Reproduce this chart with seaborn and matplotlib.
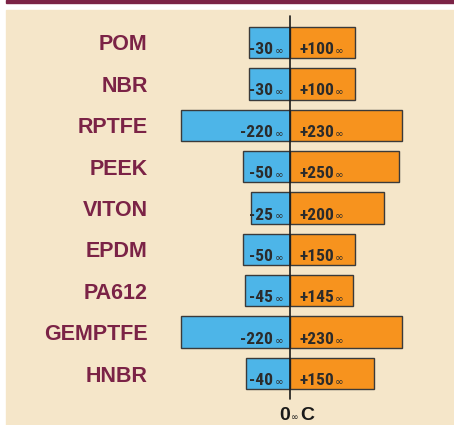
import matplotlib
matplotlib.use("Agg")
import matplotlib.pyplot as plt
from matplotlib.patches import Rectangle
from matplotlib import font_manager
import seaborn as sns
import pandas as pd

# materials, top to bottom
materials = ["POM", "NBR", "RPTFE", "PEEK", "VITON", "EPDM", "PA612", "GEMPTFE", "HNBR"]
# temperature limits printed on the bars
cold_temp = [-30, -30, -220, -50, -25, -50, -45, -220, -40]
hot_temp = [100, 100, 230, 250, 200, 150, 145, 230, 150]
# bar extents as drawn in the picture (the graphic is not to scale)
cold_bar = [-82, -82, -218, -94, -78, -94, -90, -218, -88]
hot_bar = [130, 130, 224, 218, 188, 130, 126, 224, 168]

MAROON = "#7b2346"
BEIGE = "#f5e6c9"
BLUE = "#4db5e8"
ORANGE = "#f7931e"
DARK = "#2b2b2b"


def pick_font(candidates):
    have = {f.name for f in font_manager.fontManager.ttflist if f.weight in (700, "bold")}
    for c in candidates:
        if c in have:
            return c
    return None


def main():
    df = pd.DataFrame({"material": materials, "cold": cold_bar, "hot": hot_bar})

    sns.set_style("white")
    plt.rcParams["font.family"] = ["Liberation Sans", "DejaVu Sans"]

    # condensed bold face for the numbers on the bars
    cond = pick_font(["Roboto Condensed", "Archivo Narrow", "PT Sans Narrow",
                      "Liberation Sans Narrow", "Oswald"])
    num_size = 12.5 if cond else 8.5
    num_family = [cond, "DejaVu Sans"] if cond else ["DejaVu Sans"]

    fig = plt.figure(figsize=(4.54, 4.25), dpi=100, facecolor="white")
    W, H = 454.0, 425.0

    # page decoration: maroon rule and beige panel
    fig.patches.append(Rectangle((6 / W, 0), 1 - 6 / W, (H - 10) / H,
                                 transform=fig.transFigure, color=BEIGE, zorder=-5))
    fig.patches.append(Rectangle((6 / W, (H - 2.8) / H), 1 - 6 / W, 2.8 / H,
                                 transform=fig.transFigure, color=MAROON, zorder=-5))

    ax = fig.add_axes([160 / W, 1 - 394.2 / H, (W - 160) / W, (394.2 - 21.8) / H])
    ax.set_facecolor("none")

    sns.barplot(data=df, x="cold", y="material", orient="h", color=BLUE, saturation=1,
                width=0.76, edgecolor="#3a3a3a", linewidth=1.0, ax=ax)
    sns.barplot(data=df, x="hot", y="material", orient="h", color=ORANGE, saturation=1,
                width=0.76, edgecolor="#3a3a3a", linewidth=1.0, ax=ax)

    ax.set_xlim(-260, 328)
    ax.set_ylim(len(materials) - 0.5, -0.5)
    ax.axvline(0, ymin=-0.012, ymax=1.016, color="#1a1a1a", lw=1.2, zorder=5, clip_on=False)

    for s in ax.spines.values():
        s.set_visible(False)
    ax.set_xticks([])
    ax.set_xlabel("")
    ax.set_ylabel("")
    ax.set_yticks(range(len(materials)), materials, fontsize=15.5, fontweight="bold",
                  color=MAROON)
    ax.tick_params(axis="y", length=0, pad=8.9)

    for i in range(len(materials)):
        ax.annotate(f"{cold_temp[i]}", xy=(0, i), xytext=(-12.5, -8.3), textcoords="offset points",
                    ha="right", va="baseline", fontsize=num_size, fontweight="bold",
                    family=num_family, color=DARK, zorder=6)
        ax.annotate("\u221e", xy=(0, i), xytext=(-4.5, -8.3), textcoords="offset points",
                    ha="right", va="baseline", fontsize=7.5, family=["DejaVu Sans"],
                    color=DARK, zorder=6)
        ax.annotate(f"+{hot_temp[i]}", xy=(0, i), xytext=(6.7, -8.3), textcoords="offset points",
                    ha="left", va="baseline", fontsize=num_size, fontweight="bold",
                    family=num_family, color=DARK, zorder=6)
        ax.annotate("\u221e", xy=(0, i), xytext=(32, -8.3), textcoords="offset points",
                    ha="left", va="baseline", fontsize=7.5, family=["DejaVu Sans"],
                    color=DARK, zorder=6)

    # zero label under the axis
    base = dict(xy=(0, 0), xycoords=("data", "axes fraction"), textcoords="offset points",
                va="baseline", color="#1a1a1a", annotation_clip=False)
    ax.annotate("0", xytext=(-0.2, -18.6), ha="right", fontsize=14, fontweight="bold", **base)
    ax.annotate("\u221e", xytext=(3.4, -18.6), ha="center", fontsize=6.5,
                family=["DejaVu Sans"], **base)
    ax.annotate("C", xytext=(7.4, -18.6), ha="left", fontsize=14, fontweight="bold", **base)

    plt.savefig("out.png", dpi=100, facecolor="white")


if __name__ == "__main__":
    main()
